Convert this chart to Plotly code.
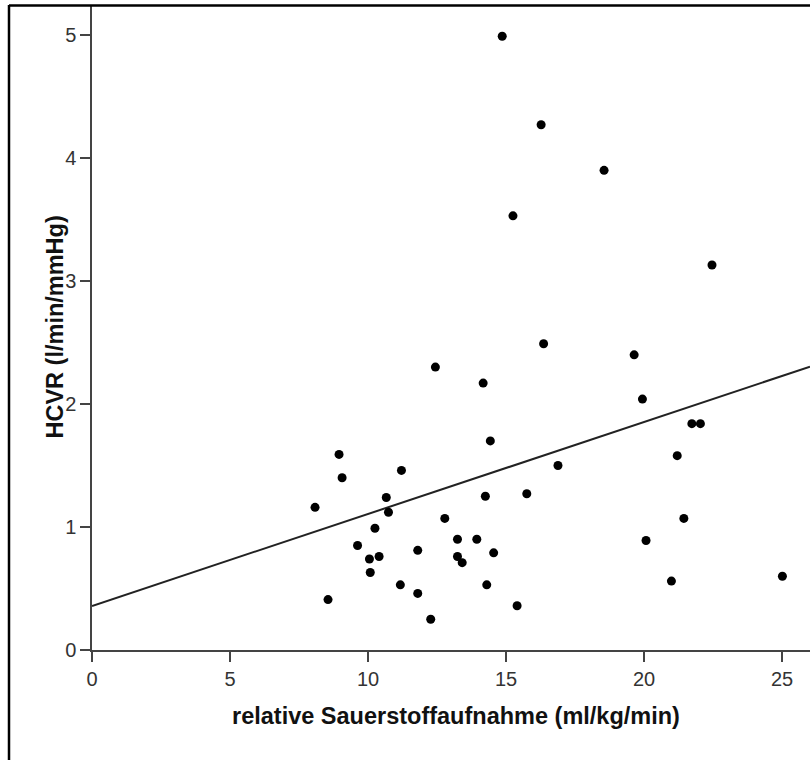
import plotly.graph_objects as go

# Data
vo2_rel = [8.08, 8.55, 8.95, 9.06, 9.62, 10.05, 10.08, 10.25, 10.40, 10.66, 10.74,
           11.21, 11.17, 11.80, 11.80, 12.27, 12.44, 12.78, 13.24, 13.24, 13.41,
           13.94, 14.17, 14.25, 14.30, 14.43, 14.55, 14.86, 15.25, 15.40, 15.75,
           16.27, 16.36, 16.88, 18.55, 19.64, 19.94, 20.07, 20.99, 21.20, 21.44,
           21.73, 22.04, 22.46, 25.01]
hcvr = [1.16, 0.41, 1.59, 1.40, 0.85, 0.74, 0.63, 0.99, 0.76, 1.24, 1.12,
        1.46, 0.53, 0.81, 0.46, 0.25, 2.30, 1.07, 0.90, 0.76, 0.71,
        0.90, 2.17, 1.25, 0.53, 1.70, 0.79, 4.99, 3.53, 0.36, 1.27,
        4.27, 2.49, 1.50, 3.90, 2.40, 2.04, 0.89, 0.56, 1.58, 1.07,
        1.84, 1.84, 3.13, 0.60]

fit_intercept = 0.358
fit_slope = 0.0748
x_range = [0, 26.01]
y_range = [0, 5.244]
x_ticks = [0, 5, 10, 15, 20, 25]
y_ticks = [0, 1, 2, 3, 4, 5]

x_title = "relative Sauerstoffaufnahme (ml/kg/min)"
y_title = "HCVR (l/min/mmHg)"

fit_x = [x_range[0], x_range[1]]
fit_y = [fit_intercept + fit_slope * v for v in fit_x]

fig = go.Figure()
fig.add_trace(go.Scatter(x=fit_x, y=fit_y, mode="lines",
                         line=dict(color="#222222", width=2),
                         hoverinfo="skip", showlegend=False))
fig.add_trace(go.Scatter(x=vo2_rel, y=hcvr, mode="markers",
                         marker=dict(color="black", size=9),
                         showlegend=False))

tick_font = dict(family="Liberation Sans Narrow, Arial Narrow, sans-serif", size=20, color="#333333")
axis_common = dict(showgrid=False, zeroline=False, showline=True, linecolor="#444444",
                   linewidth=1.5, ticks="outside", ticklen=10, tickwidth=1.5,
                   tickcolor="#444444", tickfont=tick_font)

fig.update_xaxes(range=x_range, tickvals=x_ticks, **axis_common)
fig.update_yaxes(range=y_range, tickvals=y_ticks, **axis_common)

title_font = dict(family="Liberation Sans, Arial, sans-serif", size=23.5, color="#111111")

fig.update_layout(
    width=810, height=760,
    margin=dict(l=92, r=0, t=5, b=110),
    paper_bgcolor="white", plot_bgcolor="white",
    annotations=[
        dict(text="<b>%s</b>" % x_title, xref="paper", yref="paper",
             x=(456 - 92) / 718, y=-(716 - 650) / 645, showarrow=False,
             font=title_font, xanchor="center", yanchor="middle"),
        dict(text="<b>%s</b>" % y_title, xref="paper", yref="paper",
             x=-(92 - 54) / 718, y=0.5, showarrow=False,
             font=title_font, textangle=-90, xanchor="center", yanchor="middle"),
    ],
    shapes=[
        dict(type="line", xref="paper", yref="paper",
             x0=-(92 - 9) / 718, x1=1.01, y0=1 - 0.5 / 645, y1=1 - 0.5 / 645,
             line=dict(color="black", width=2.5)),
        dict(type="line", xref="paper", yref="paper",
             x0=-(92 - 9) / 718, x1=-(92 - 9) / 718, y0=1, y1=-0.2,
             line=dict(color="black", width=2.5)),
    ],
)

fig.write_html("out.html")
